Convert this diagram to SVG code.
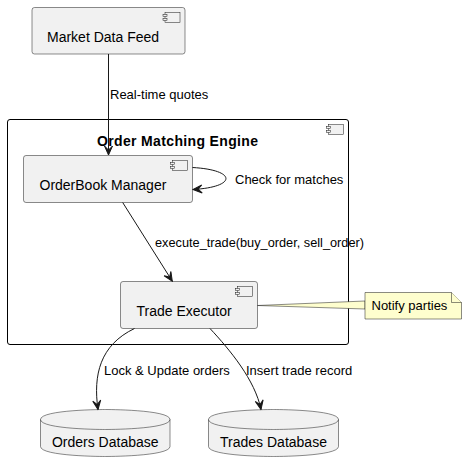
<svg xmlns="http://www.w3.org/2000/svg" width="467" height="471" viewBox="0 0 467 471">
<style>
.box{fill:#F1F1F1;stroke:#181818;stroke-width:0.5}
.ico{fill:#F1F1F1;stroke:#181818;stroke-width:0.5}
.lbl{font-family:"Liberation Sans",Arial,sans-serif;font-size:14px;fill:#000}
.elbl{font-family:"Liberation Sans",Arial,sans-serif;font-size:13px;fill:#000}
.edge{fill:none;stroke:#181818;stroke-width:1}
</style>
<defs>
<marker id="arr" viewBox="-10 -5 11 10" refX="0" refY="0" markerWidth="11" markerHeight="10" orient="auto" markerUnits="userSpaceOnUse">
<path d="M0,0 L-9,-4 L-5,0 L-9,4 Z" fill="#181818" stroke="#181818" stroke-width="1"/>
</marker>
</defs>
<rect width="467" height="471" fill="#FFFFFF"/>

<g id="order-matching-engine">
<rect x="7.5" y="119.5" width="341" height="225" rx="2.5" ry="2.5" fill="none" stroke="#000" stroke-width="1"/>
<rect class="ico" x="328.5" y="124.5" width="15" height="10"/>
<rect class="ico" x="326.5" y="126.5" width="4" height="2"/>
<rect class="ico" x="326.5" y="130.5" width="4" height="2"/>
<text x="97" y="146" textLength="161" lengthAdjust="spacing" style="font-family:'Liberation Sans',Arial,sans-serif;font-size:14px;font-weight:bold;fill:#000">Order Matching Engine</text>
</g>

<g id="market-data-feed">
<rect class="box" x="32" y="7.5" width="153" height="46.5" rx="2.5" ry="2.5"/>
<rect class="ico" x="165" y="12.5" width="15" height="10"/>
<rect class="ico" x="163" y="14.5" width="4" height="2"/>
<rect class="ico" x="163" y="18.5" width="4" height="2"/>
<text class="lbl" x="47" y="41.5">Market Data Feed</text>
</g>

<g id="orderbook-manager">
<rect class="box" x="23.5" y="155.5" width="169" height="47" rx="2.5" ry="2.5"/>
<rect class="ico" x="172.5" y="160.5" width="15" height="10"/>
<rect class="ico" x="170.5" y="162.5" width="4" height="2"/>
<rect class="ico" x="170.5" y="166.5" width="4" height="2"/>
<text class="lbl" x="39.5" y="190">OrderBook Manager</text>
</g>

<g id="trade-executor">
<rect class="box" x="120.5" y="281.5" width="137" height="47" rx="2.5" ry="2.5"/>
<rect class="ico" x="237.5" y="286.5" width="15" height="10"/>
<rect class="ico" x="235.5" y="288.5" width="4" height="2"/>
<rect class="ico" x="235.5" y="292.5" width="4" height="2"/>
<text class="lbl" x="136.5" y="316">Trade Executor</text>
</g>

<g id="orders-database">
<path class="box" d="M40.5,419.5 C40.5,409.5 105.25,409.5 105.25,409.5 C105.25,409.5 170,409.5 170,419.5 L170,446.5 C170,456.5 105.25,456.5 105.25,456.5 C105.25,456.5 40.5,456.5 40.5,446.5 Z"/>
<path class="box" style="fill:none" d="M40.5,419.5 C40.5,429.5 105.25,429.5 105.25,429.5 C105.25,429.5 170,429.5 170,419.5"/>
<text class="lbl" x="105.25" y="447" text-anchor="middle">Orders Database</text>
</g>

<g id="trades-database">
<path class="box" d="M208.5,419.5 C208.5,409.5 273.5,409.5 273.5,409.5 C273.5,409.5 338.5,409.5 338.5,419.5 L338.5,446.5 C338.5,456.5 273.5,456.5 273.5,456.5 C273.5,456.5 208.5,456.5 208.5,446.5 Z"/>
<path class="box" style="fill:none" d="M208.5,419.5 C208.5,429.5 273.5,429.5 273.5,429.5 C273.5,429.5 338.5,429.5 338.5,419.5"/>
<text class="lbl" x="273.5" y="447" text-anchor="middle">Trades Database</text>
</g>

<g id="note-notify">
<polygon points="257.5,305.5 365,301 365,309" fill="#FEFECE" stroke="#181818" stroke-width="0.5"/>
<path d="M365,292.5 L451.5,292.5 L461.5,302.5 L461.5,319 L365,319 Z" fill="#FEFECE" stroke="#181818" stroke-width="0.5"/>
<path d="M451.5,292.5 L451.5,302.5 L461.5,302.5" fill="#FEFECE" stroke="#181818" stroke-width="0.5"/>
<text class="elbl" x="371.5" y="309.5">Notify parties</text>
</g>

<g id="connectors">
<path class="edge" d="M108.5,54 L108.5,155" marker-end="url(#arr)"/>
<text class="elbl" x="110" y="99">Real-time quotes</text>
<path class="edge" d="M192.5,167.5 C237,170 237,187 193,189.5" marker-end="url(#arr)"/>
<text class="elbl" x="235" y="183.5">Check for matches</text>
<path class="edge" d="M122.7,202.5 L172.3,281.2" marker-end="url(#arr)"/>
<text class="elbl" x="155" y="246.5" textLength="209" lengthAdjust="spacingAndGlyphs">execute_trade(buy_order, sell_order)</text>
<path class="edge" d="M134.5,328.5 C100,345 93,375 98,409.5" marker-end="url(#arr)"/>
<text class="elbl" x="104" y="374.5">Lock &amp; Update orders</text>
<path class="edge" d="M210,328.5 C230,350 255,380 261,409.5" marker-end="url(#arr)"/>
<text class="elbl" x="246" y="374.5">Insert trade record</text>
</g>
</svg>
